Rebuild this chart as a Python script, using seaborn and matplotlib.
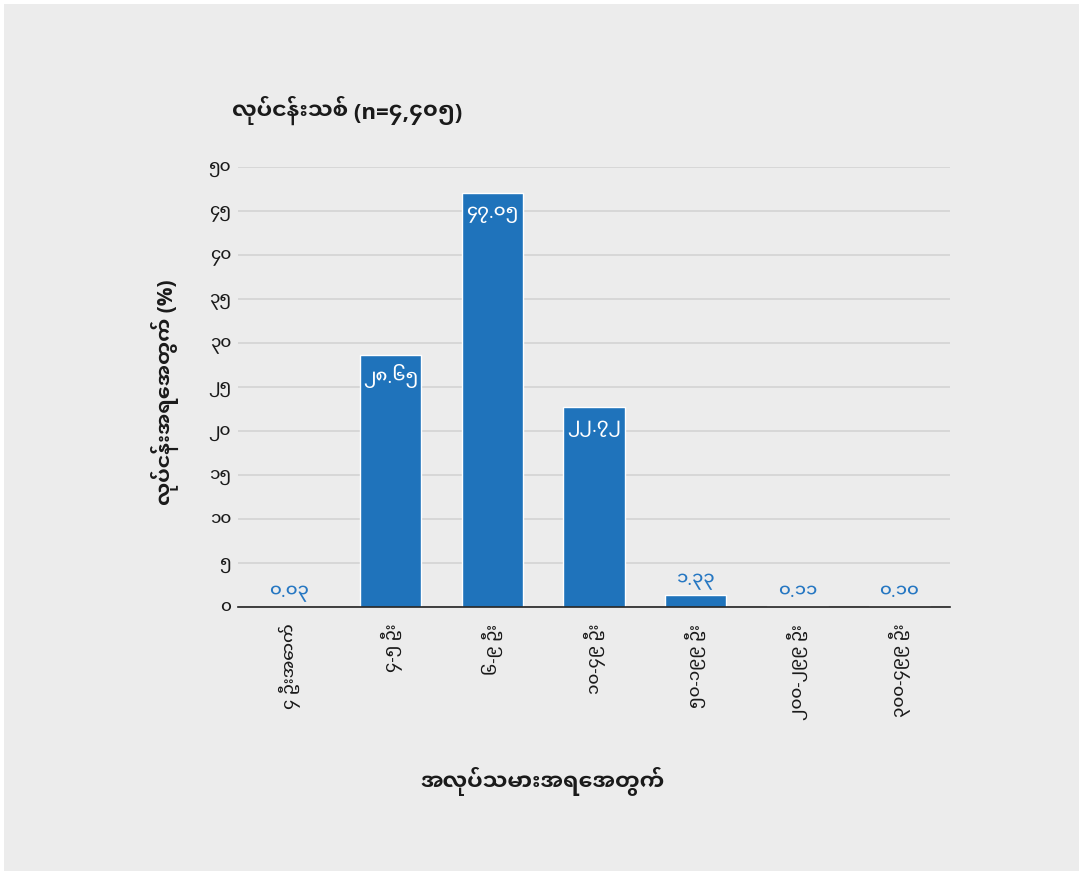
import matplotlib
matplotlib.use("Agg")
import matplotlib.pyplot as plt
from matplotlib.patches import Rectangle
import seaborn as sns
import pandas as pd

# Workplace size categories (number of workers) and share of new businesses (%)
categories = ["၄ ဦးအောက်", "၄-၅ ဦး", "၆-၉ ဦး", "၁၀-၄၉ ဦး",
              "၅၀-၁၉၉ ဦး", "၂၀၀-၂၉၉ ဦး", "၃၀၀-၄၉၉ ဦး"]
shares = [0.03, 28.65, 47.05, 22.72, 1.33, 0.11, 0.10]
y_ticks = [0, 5, 10, 15, 20, 25, 30, 35, 40, 45, 50]

title_text = "လုပ်ငန်းသစ် (n=၄,၄၀၅)"
x_label = "အလုပ်သမားအရေအတွက်"
y_label = "လုပ်ငန်းအရေအတွက် (%)"

MM_DIGITS = str.maketrans("0123456789", "၀၁၂၃၄၅၆၇၈၉")


def mm(num_text):
    return num_text.translate(MM_DIGITS)


sns.set_style("white")
plt.rcParams["font.family"] = ["Noto Sans Myanmar UI", "Open Sans", "DejaVu Sans"]

BG = "#ececec"
BAR = "#1f73bb"
TEXT = "#1a1a1a"

df = pd.DataFrame({"category": categories, "share": shares})

fig = plt.figure(figsize=(10.83, 8.75), dpi=100, facecolor="white")
fig.patches.append(Rectangle((4 / 1083, 4 / 875), 1 - 8 / 1083, 1 - 8 / 875,
                             transform=fig.transFigure, facecolor=BG,
                             edgecolor="none", zorder=-10))
ax = fig.add_axes([238 / 1083, 1 - 607 / 875, 712 / 1083, 440 / 875])
ax.set_facecolor(BG)

sns.barplot(data=df, x="category", y="share", color=BAR, width=0.6,
            saturation=1, ax=ax, zorder=3)

ax.set_ylim(0, 50)
ax.set_xlim(-0.5, len(categories) - 0.5)
ax.set_yticks(y_ticks)
ax.set_yticklabels([mm(str(t)) for t in y_ticks], fontsize=12, color=TEXT,
                   fontweight="medium")
ax.set_xticks(range(len(categories)))
ax.set_xticklabels(categories, rotation=90, fontsize=12, color=TEXT,
                   va="top", ha="center", fontweight="medium")
ax.tick_params(axis="x", length=0, pad=12)
ax.tick_params(axis="y", length=0, pad=5)
ax.set_xlabel("")
ax.set_ylabel("")

ax.grid(axis="y", color="#d3d3d3", linewidth=1.2, zorder=0)
ax.grid(axis="x", visible=False)
for side in ["left", "right", "top"]:
    ax.spines[side].set_visible(False)
ax.spines["bottom"].set_color("#222222")
ax.spines["bottom"].set_linewidth(1.2)
ax.spines["bottom"].set_zorder(5)

# Value labels: inside tall bars in white, above short bars in blue
for i, v in enumerate(shares):
    label = mm(f"{v:.2f}")
    if v > 10:
        ax.annotate(label, (i, v), xytext=(0, -15), textcoords="offset points",
                    ha="center", va="center", color="white", fontsize=13,
                    fontweight="medium", zorder=6)
    else:
        ax.annotate(label, (i, v), xytext=(0, 10), textcoords="offset points",
                    ha="center", va="center", color="#2677c2", fontsize=13,
                    fontweight="medium", zorder=6)

fig.text(232 / 1083, 1 - 110 / 875, title_text, fontsize=16,
         fontweight="bold", ha="left", va="center", color=TEXT)
fig.text(165 / 1083, 1 - 392 / 875, y_label, fontsize=15, fontweight="bold",
         rotation=90, ha="center", va="center", color=TEXT)
fig.text(543 / 1083, 1 - 781 / 875, x_label, fontsize=16, fontweight="bold",
         ha="center", va="center", color=TEXT)

fig.savefig("out.png", dpi=100, facecolor=fig.get_facecolor())
